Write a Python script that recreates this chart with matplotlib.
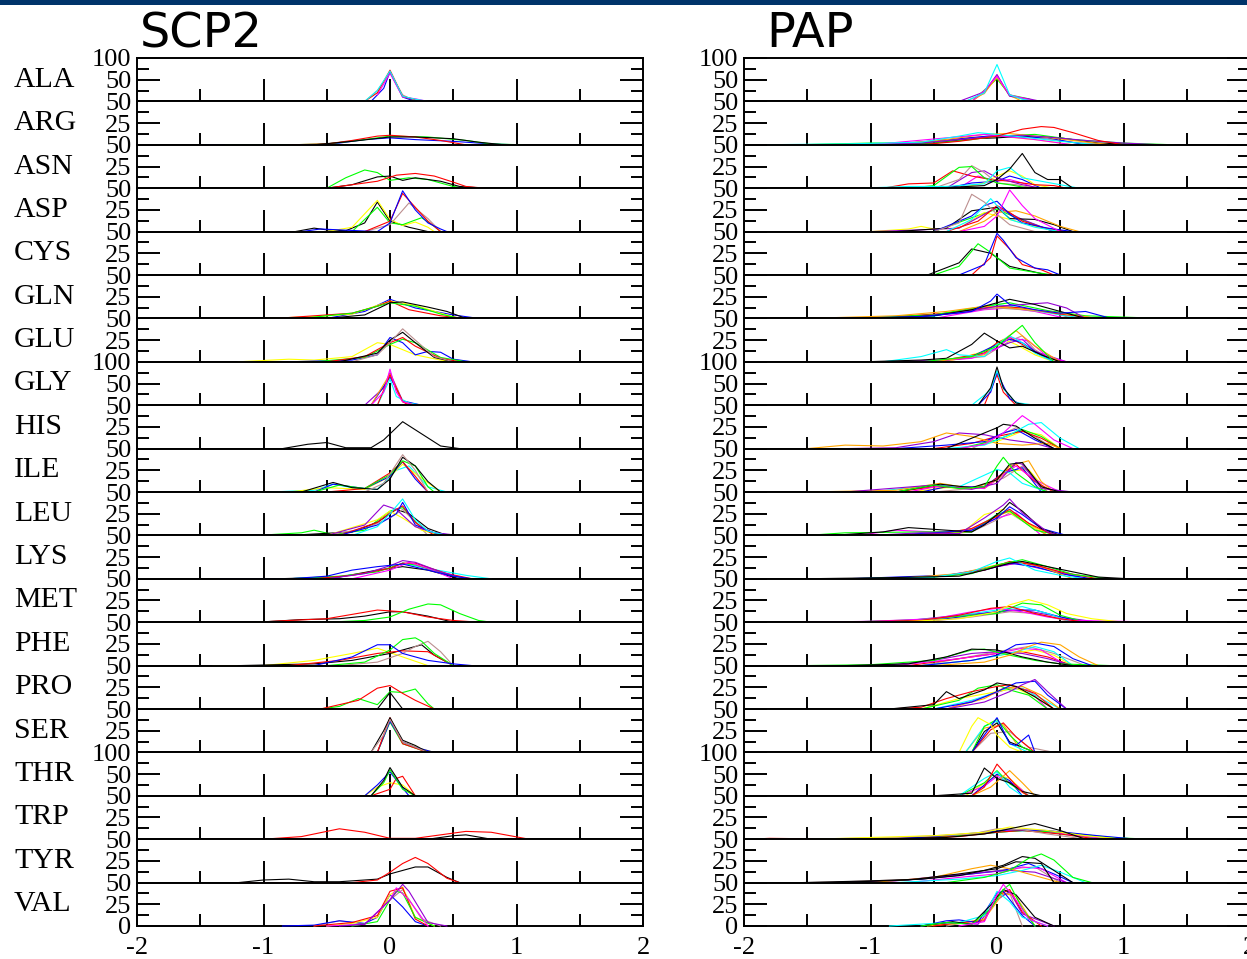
import matplotlib
matplotlib.use("Agg")
import matplotlib.pyplot as plt
from matplotlib.patches import Rectangle

# xmgrace palette, keyed by one letter
grace = {'k': '#000000', 'r': '#ff0000', 'g': '#00ff00', 'b': '#0000ff',
         'y': '#ffff00', 'n': '#bc8f8f', 'v': '#9400d3', 'c': '#00ffff',
         'm': '#ff00ff', 'o': '#ffa500'}

residues = ['ALA', 'ARG', 'ASN', 'ASP', 'CYS', 'GLN', 'GLU', 'GLY', 'HIS', 'ILE',
            'LEU', 'LYS', 'MET', 'PHE', 'PRO', 'SER', 'THR', 'TRP', 'TYR', 'VAL']
ymax = [100, 50, 50, 50, 50, 50, 50, 100, 50, 50,
        50, 50, 50, 50, 50, 50, 100, 50, 50, 50]
xtick_labels = ['-2', '-1', '0', '1', '2']
titles = ['SCP2', 'PAP']

# ---- SCP2 distributions: (colour, x, %) ----
scp2_ala = [('n', [-0.2, -0.1, 0, 0.1, 0.2], [0, 25, 66, 15, 0]),
            ('b', [-0.15, -0.05, 0, 0.1, 0.2], [0, 30, 68, 10, 0]),
            ('m', [-0.1, 0, 0.1, 0.2, 0.3], [15, 65, 10, 6, 0]),
            ('r', [-0.2, -0.1, 0, 0.1, 0.2, 0.25], [0, 20, 72, 12, 4, 0]),
            ('c', [-0.35, -0.2, -0.1, 0, 0.1, 0.2, 0.3], [0, 0, 25, 70, 12, 5, 0])]
scp2_arg = [('b', [-1.45, -0.6, -0.4, -0.2, 0, 0.2, 0.5, 0.8, 1.0], [0, 0, 2, 6, 8, 6, 4, 1, 0]),
            ('g', [-1.3, -0.8, -0.5, -0.2, 0, 0.3, 0.6, 0.8, 1.05], [0, 0, 1, 6, 10, 9, 5, 1, 0]),
            ('r', [-0.8, -0.5, -0.3, -0.1, 0, 0.2, 0.4, 0.6], [0, 1, 5, 10, 11, 9, 5, 0]),
            ('k', [-0.6, -0.3, 0, 0.2, 0.5, 0.7, 0.9], [0, 4, 9, 9, 7, 3, 0])]
scp2_asn = [('g', [-0.97, -0.5, -0.35, -0.2, -0.1, 0, 0.15, 0.3, 0.5, 0.6], [0, 0, 12, 21, 18, 9, 12, 10, 2, 0]),
            ('k', [-0.5, -0.3, -0.1, 0, 0.1, 0.2, 0.4, 0.55, 0.75], [0, 4, 13, 14, 9, 12, 8, 2, 0]),
            ('r', [-0.5, -0.3, -0.1, 0.05, 0.2, 0.35, 0.5, 0.6, 0.75], [0, 4, 8, 15, 17, 14, 7, 2, 0])]
scp2_asp = [('k', [-0.75, -0.6, -0.5, -0.35, -0.2, -0.1, 0, 0.15, 0.3], [0, 4, 2, 1, 10, 34, 12, 5, 0]),
            ('y', [-0.75, -0.5, -0.3, -0.1, 0, 0.1, 0.2, 0.3, 0.35], [0, 0, 5, 36, 14, 7, 11, 5, 0]),
            ('g', [-0.3, -0.1, 0, 0.1, 0.25, 0.35, 0.4], [0, 28, 10, 8, 16, 6, 0]),
            ('n', [-0.2, 0, 0.15, 0.3, 0.4], [0, 8, 33, 15, 0]),
            ('r', [-0.2, 0, 0.1, 0.2, 0.3, 0.4], [0, 12, 44, 28, 12, 0]),
            ('b', [-0.7, -0.55, -0.4, -0.1, 0, 0.1, 0.2, 0.3, 0.4, 0.45], [0, 3, 2, 0, 10, 47, 25, 10, 3, 0])]
scp2_cys = []
scp2_gln = [('b', [-1.2, -0.5, -0.2, 0, 0.2, 0.5, 0.7], [0, 0, 8, 22, 12, 4, 0]),
            ('y', [-1.0, -0.6, -0.3, 0, 0.2, 0.4, 0.55], [0, 2, 5, 20, 15, 6, 0]),
            ('r', [-0.9, -0.3, -0.1, 0, 0.15, 0.4, 0.6], [0, 6, 14, 20, 10, 3, 0]),
            ('g', [-0.7, -0.3, 0, 0.2, 0.4, 0.55], [0, 6, 18, 14, 5, 0]),
            ('k', [-0.5, -0.2, 0, 0.1, 0.3, 0.45, 0.6], [0, 4, 18, 19, 13, 8, 0])]
scp2_glu = [('y', [-1.2, -0.8, -0.6, -0.3, -0.1, 0, 0.2, 0.4, 0.5], [0, 3, 2, 6, 22, 20, 8, 2, 0]),
            ('b', [-0.8, -0.3, -0.1, 0, 0.1, 0.2, 0.3, 0.4, 0.5, 0.65], [0, 2, 8, 28, 22, 8, 12, 11, 3, 0]),
            ('g', [-0.6, -0.2, 0, 0.1, 0.2, 0.4, 0.6], [0, 5, 20, 26, 22, 5, 0]),
            ('r', [-0.5, -0.2, 0, 0.1, 0.2, 0.4, 0.55], [0, 6, 22, 28, 18, 4, 0]),
            ('k', [-0.4, -0.1, 0, 0.1, 0.2, 0.35, 0.5], [0, 10, 25, 34, 22, 5, 0]),
            ('n', [-0.3, -0.1, 0, 0.1, 0.2, 0.35, 0.5], [0, 8, 22, 38, 25, 6, 0])]
scp2_gly = [('v', [-0.2, -0.05, 0, 0.1, 0.2], [0, 40, 75, 10, 0]),
            ('b', [-0.15, 0, 0.1, 0.25], [0, 65, 10, 0]),
            ('c', [-0.1, 0, 0.05, 0.15, 0.25], [0, 60, 20, 5, 0]),
            ('o', [-0.15, 0, 0.1, 0.2], [0, 72, 8, 0]),
            ('r', [-0.1, 0, 0.1, 0.15], [0, 70, 8, 0]),
            ('m', [-0.15, -0.05, 0, 0.05, 0.1, 0.2], [0, 30, 83, 30, 8, 0])]
scp2_his = [('k', [-0.85, -0.65, -0.5, -0.35, -0.15, -0.05, 0.1, 0.25, 0.4, 0.55], [0, 5, 7, 1, 1, 10, 31, 17, 3, 0])]
scp2_ile = [('c', [-0.95, -0.6, -0.45, -0.3, -0.1, 0.05, 0.15, 0.3, 0.45], [0, 2, 9, 5, 3, 25, 30, 6, 0]),
            ('y', [-0.8, -0.5, -0.2, 0, 0.1, 0.25, 0.4], [0, 5, 3, 18, 32, 16, 0]),
            ('b', [-0.6, -0.45, -0.2, 0, 0.1, 0.2, 0.3], [0, 9, 4, 18, 35, 15, 0]),
            ('r', [-0.5, -0.2, 0, 0.1, 0.2, 0.3], [0, 4, 22, 35, 18, 0]),
            ('g', [-0.6, -0.4, -0.2, 0, 0.1, 0.2, 0.3, 0.35], [0, 8, 4, 20, 36, 30, 6, 0]),
            ('k', [-0.7, -0.45, -0.3, -0.1, 0, 0.1, 0.2, 0.3, 0.4], [0, 11, 5, 3, 15, 40, 30, 12, 0]),
            ('n', [-0.2, -0.05, 0.1, 0.2, 0.3], [0, 10, 43, 25, 0])]
scp2_leu = [('g', [-1.05, -0.7, -0.6, -0.45, -0.2, 0, 0.1, 0.25, 0.4], [0, 3, 6, 1, 6, 28, 32, 8, 0]),
            ('k', [-0.8, -0.3, -0.1, 0.05, 0.15, 0.3, 0.45], [0, 4, 15, 30, 25, 8, 0]),
            ('n', [-0.5, -0.2, 0, 0.1, 0.3], [0, 8, 20, 30, 0]),
            ('y', [-0.5, -0.1, 0, 0.1, 0.25, 0.4], [0, 18, 28, 20, 6, 0]),
            ('r', [-0.4, -0.1, 0, 0.1, 0.2, 0.35], [0, 15, 26, 34, 15, 0]),
            ('b', [-0.4, -0.1, 0.05, 0.1, 0.2, 0.35, 0.5], [0, 12, 25, 38, 12, 3, 0]),
            ('v', [-0.5, -0.2, -0.05, 0.05, 0.2, 0.35, 0.55], [0, 12, 35, 30, 10, 3, 0]),
            ('c', [-0.3, -0.1, 0, 0.1, 0.2, 0.3, 0.45], [0, 10, 25, 42, 18, 5, 0])]
scp2_lys = [('k', [-0.9, -0.4, -0.1, 0.1, 0.3, 0.55], [0, 2, 10, 14, 10, 0]),
            ('c', [-0.9, -0.5, -0.2, 0, 0.1, 0.3, 0.6, 0.8], [0, 1, 6, 12, 18, 12, 4, 0]),
            ('g', [-0.8, -0.4, -0.1, 0.1, 0.2, 0.4, 0.6], [0, 3, 8, 18, 16, 7, 0]),
            ('r', [-0.6, -0.3, 0, 0.1, 0.2, 0.45, 0.65], [0, 4, 12, 18, 18, 6, 0]),
            ('m', [-0.3, 0, 0.15, 0.3, 0.5], [0, 10, 19, 12, 0]),
            ('v', [-0.5, -0.2, 0, 0.1, 0.2, 0.4, 0.6], [0, 6, 15, 21, 19, 8, 0]),
            ('b', [-1.35, -0.8, -0.5, -0.3, -0.1, 0.1, 0.3, 0.5, 0.65], [0, 0, 3, 10, 14, 17, 10, 3, 0])]
scp2_met = [('k', [-1.05, -0.7, -0.4, -0.2, 0, 0.1, 0.3, 0.5], [0, 3, 4, 7, 12, 12, 7, 0]),
            ('r', [-1.05, -0.8, -0.5, -0.3, -0.1, 0.1, 0.3, 0.5, 0.7], [0, 2, 4, 9, 14, 12, 6, 2, 0]),
            ('g', [-1.05, -0.5, -0.2, 0, 0.15, 0.3, 0.4, 0.55, 0.7, 0.8], [0, 0, 2, 6, 15, 21, 20, 10, 2, 0])]
scp2_phe = [('y', [-1.4, -1.0, -0.6, -0.3, -0.1, 0.1, 0.3], [0, 0, 6, 14, 20, 10, 0]),
            ('k', [-1.2, -0.6, -0.3, 0, 0.15, 0.25, 0.35, 0.5], [0, 2, 6, 14, 20, 24, 12, 0]),
            ('r', [-0.8, -0.4, -0.1, 0.1, 0.3, 0.5], [0, 6, 14, 17, 16, 0]),
            ('n', [-0.4, -0.1, 0.1, 0.2, 0.3, 0.4, 0.5], [0, 4, 14, 22, 28, 16, 0]),
            ('g', [-0.5, -0.2, 0, 0.1, 0.2, 0.25, 0.35, 0.5], [0, 4, 18, 30, 32, 28, 14, 0]),
            ('b', [-0.6, -0.3, -0.1, 0, 0.1, 0.3, 0.5, 0.65], [0, 10, 24, 24, 14, 6, 2, 0])]
scp2_pro = [('g', [-0.55, -0.4, -0.25, -0.1, 0, 0.1, 0.2, 0.3, 0.35], [0, 3, 12, 5, 20, 19, 23, 6, 0]),
            ('r', [-0.55, -0.4, -0.25, -0.1, 0, 0.1, 0.2, 0.35], [0, 5, 10, 24, 27, 18, 10, 0]),
            ('k', [-0.1, 0, 0.1], [0, 19, 0])]
scp2_ser = [('g', [-0.1, 0, 0.1, 0.3], [0, 35, 10, 0]),
            ('y', [-0.1, 0, 0.1, 0.25, 0.35], [0, 38, 12, 4, 0]),
            ('b', [-0.1, 0, 0.1, 0.2, 0.35], [0, 36, 12, 6, 0]),
            ('r', [-0.1, 0, 0.1, 0.2, 0.3], [0, 40, 10, 5, 0]),
            ('k', [-0.15, -0.05, 0, 0.1, 0.2, 0.3], [0, 25, 40, 14, 8, 0]),
            ('n', [-0.15, -0.05, 0, 0.1, 0.2, 0.3], [0, 20, 38, 12, 6, 0])]
scp2_thr = [('y', [-0.55, -0.2, -0.1, 0, 0.1, 0.2, 0.35], [0, 0, 20, 30, 25, 0, 0]),
            ('r', [-0.15, 0, 0.05, 0.1, 0.2], [0, 15, 40, 45, 0]),
            ('b', [-0.2, -0.1, 0, 0.1, 0.15], [0, 25, 55, 18, 0]),
            ('g', [-0.15, -0.05, 0, 0.1, 0.2], [0, 30, 60, 15, 0]),
            ('k', [-0.15, -0.05, 0, 0.1, 0.2], [0, 35, 65, 20, 0])]
scp2_trp = [('k', [0.3, 0.5, 0.6, 0.8], [0, 4, 5, 0]),
            ('r', [-1.45, -1.0, -0.7, -0.4, -0.2, 0, 0.2, 0.4, 0.6, 0.8, 1.1], [0, 0, 3, 12, 8, 1, 1, 5, 9, 8, 0])]
scp2_tyr = [('k', [-1.2, -1.0, -0.8, -0.6, -0.4, -0.1, 0, 0.2, 0.3, 0.45, 0.55], [0, 3, 4, 1, 1, 4, 10, 18, 18, 6, 0]),
            ('r', [-1.2, -0.3, -0.1, 0, 0.1, 0.2, 0.3, 0.45, 0.55], [0, 0, 3, 12, 22, 29, 22, 5, 0])]
scp2_val = [('n', [-0.6, -0.4, -0.2, 0, 0.1, 0.25, 0.4], [0, 6, 2, 30, 42, 8, 0]),
            ('b', [-0.85, -0.6, -0.4, -0.2, -0.1, 0, 0.1, 0.2, 0.3], [0, 1, 6, 3, 10, 36, 22, 5, 0]),
            ('y', [-0.5, -0.3, -0.1, 0, 0.1, 0.2, 0.35], [0, 3, 10, 36, 45, 10, 0]),
            ('r', [-0.6, -0.3, -0.1, 0, 0.1, 0.2, 0.3], [0, 4, 12, 40, 44, 8, 0]),
            ('g', [-0.3, -0.1, 0, 0.05, 0.1, 0.2, 0.35], [0, 5, 30, 40, 38, 10, 0]),
            ('m', [-0.5, -0.2, 0, 0.05, 0.15, 0.3], [0, 2, 30, 44, 30, 0]),
            ('v', [-0.4, -0.2, 0, 0.1, 0.15, 0.3, 0.45], [0, 2, 30, 48, 40, 4, 0])]

# ---- PAP distributions ----
pap_ala = [('n', [-0.25, -0.1, 0, 0.1, 0.3], [0, 18, 60, 12, 0]),
           ('g', [-0.2, 0, 0.1, 0.25, 0.3], [0, 52, 15, 6, 0]),
           ('o', [-0.2, -0.1, 0, 0.1, 0.2], [0, 20, 55, 14, 0]),
           ('v', [-0.3, -0.1, 0, 0.1, 0.25, 0.35, 0.4, 0.46], [0, 22, 62, 12, 6, 0, 2, 0]),
           ('m', [-0.33, -0.2, -0.1, 0, 0.1, 0.2, 0.3], [0, 0, 25, 58, 15, 8, 0]),
           ('c', [-0.25, -0.1, 0, 0.1, 0.2, 0.3], [0, 20, 85, 15, 5, 0])]
pap_arg = [('y', [-1.2, -0.6, -0.2, 0, 0.3, 0.6], [0, 3, 8, 10, 6, 0]),
           ('n', [-0.8, -0.4, -0.1, 0.1, 0.3, 0.6, 0.9], [0, 5, 9, 10, 8, 3, 0]),
           ('k', [-1.0, -0.5, -0.2, 0, 0.2, 0.5, 0.8, 1.2], [0, 2, 7, 8, 10, 8, 2, 0]),
           ('b', [-1.3, -0.7, -0.3, 0, 0.2, 0.4, 0.7], [0, 2, 7, 11, 9, 8, 0]),
           ('g', [-1.6, -1.0, -0.5, -0.2, 0, 0.3, 0.6, 1.0, 1.4], [0, 2, 2, 6, 10, 12, 6, 2, 0]),
           ('o', [-1.5, -0.8, -0.4, -0.1, 0.1, 0.3, 0.6, 0.9], [0, 1, 6, 12, 13, 10, 5, 0]),
           ('v', [-1.2, -0.6, -0.3, 0, 0.2, 0.4, 0.7, 1.0, 1.3], [0, 2, 6, 10, 11, 9, 5, 2, 0]),
           ('m', [-1.0, -0.4, -0.1, 0.1, 0.3, 0.6], [0, 8, 12, 9, 6, 0]),
           ('c', [-1.9, -1.2, -0.6, -0.3, -0.15, 0, 0.2, 0.5, 0.8], [0, 1, 3, 10, 14, 12, 9, 4, 0]),
           ('r', [-0.6, -0.3, 0, 0.2, 0.35, 0.45, 0.6, 0.8, 1.0], [0, 4, 10, 18, 21, 20, 14, 5, 0])]
pap_asn = [('m', [-0.3, -0.15, 0, 0.1, 0.2, 0.3], [0, 14, 8, 10, 6, 0]),
           ('b', [-0.4, -0.2, 0, 0.1, 0.2, 0.35], [0, 6, 8, 14, 10, 0]),
           ('y', [-0.3, -0.1, 0, 0.1, 0.2, 0.3, 0.45], [0, 6, 14, 20, 14, 4, 0]),
           ('r', [-0.9, -0.7, -0.5, -0.35, -0.2, -0.05, 0.1, 0.3, 0.45, 0.55], [0, 5, 6, 20, 14, 10, 8, 4, 3, 0]),
           ('v', [-0.4, -0.2, -0.1, 0, 0.1, 0.2, 0.35], [0, 18, 20, 12, 8, 4, 0]),
           ('n', [-0.5, -0.3, -0.2, -0.1, 0, 0.15, 0.3], [0, 10, 26, 18, 6, 4, 0]),
           ('g', [-0.7, -0.5, -0.3, -0.2, -0.1, 0, 0.1, 0.25], [0, 3, 24, 25, 12, 6, 4, 0]),
           ('c', [-1.1, -0.7, -0.4, -0.1, 0, 0.1, 0.2, 0.35, 0.5, 0.65], [0, 2, 2, 5, 20, 24, 12, 8, 4, 0]),
           ('k', [-0.5, -0.1, 0, 0.1, 0.2, 0.3, 0.4, 0.5, 0.6], [0, 3, 10, 22, 40, 18, 10, 10, 0])]
pap_asp = [('g', [-0.5, -0.2, 0, 0.15, 0.3, 0.45], [0, 16, 26, 16, 8, 0]),
           ('y', [-1.0, -0.7, -0.6, -0.5, -0.3, -0.1, 0.1, 0.3, 0.5], [0, 3, 6, 3, 4, 22, 14, 6, 0]),
           ('v', [-1.0, -0.6, -0.3, -0.1, 0, 0.2, 0.45], [0, 2, 4, 20, 28, 14, 0]),
           ('k', [-0.8, -0.4, -0.2, 0, 0.1, 0.3, 0.45, 0.6], [0, 4, 24, 28, 15, 14, 8, 0]),
           ('o', [-0.3, -0.1, 0, 0.15, 0.3, 0.5, 0.65], [0, 12, 22, 24, 18, 6, 0]),
           ('r', [-0.4, -0.15, 0, 0.1, 0.2, 0.35, 0.55], [0, 12, 30, 22, 12, 5, 0]),
           ('b', [-0.5, -0.2, -0.1, 0, 0.1, 0.2, 0.4, 0.6], [0, 18, 30, 35, 20, 10, 4, 0]),
           ('c', [-0.4, -0.2, -0.05, 0, 0.1, 0.3, 0.5], [0, 14, 38, 30, 14, 5, 0]),
           ('n', [-0.5, -0.3, -0.2, -0.1, 0, 0.1, 0.3], [0, 10, 43, 34, 20, 8, 0]),
           ('m', [-0.3, -0.1, 0, 0.1, 0.2, 0.3, 0.5], [0, 6, 18, 48, 30, 15, 0])]
pap_cys = [('k', [-0.55, -0.3, -0.2, -0.05, 0.1, 0.25, 0.4], [0, 14, 30, 25, 10, 5, 0]),
           ('g', [-1.0, -0.5, -0.3, -0.15, -0.05, 0.1, 0.3, 0.45], [0, 0, 10, 36, 26, 8, 3, 0]),
           ('r', [-0.2, -0.05, 0, 0.1, 0.2, 0.35, 0.45], [0, 20, 45, 30, 12, 6, 0]),
           ('b', [-0.3, -0.1, 0, 0.05, 0.15, 0.3, 0.4, 0.5], [0, 12, 48, 40, 20, 8, 6, 0])]
pap_gln = [('m', [-0.5, -0.1, 0.1, 0.3, 0.55], [0, 10, 12, 8, 0]),
           ('n', [-0.7, -0.3, 0, 0.2, 0.45, 0.6], [0, 8, 12, 10, 6, 0]),
           ('c', [-0.6, -0.2, 0, 0.2, 0.5, 0.7], [0, 10, 16, 12, 4, 0]),
           ('r', [-1.0, -0.4, 0, 0.2, 0.5, 0.8], [0, 6, 14, 12, 5, 0]),
           ('g', [-1.2, -0.5, -0.1, 0.1, 0.4, 0.7, 1.3], [0, 4, 14, 18, 9, 3, 0]),
           ('o', [-1.5, -0.8, -0.4, -0.1, 0.1, 0.4, 0.6, 0.8], [0, 3, 8, 14, 12, 8, 4, 0]),
           ('v', [-0.8, -0.3, 0, 0.2, 0.4, 0.55, 0.7], [0, 6, 14, 16, 18, 12, 0]),
           ('k', [-1.0, -0.5, -0.2, 0, 0.1, 0.3, 0.5, 0.7], [0, 3, 10, 18, 22, 16, 8, 0]),
           ('b', [-1.3, -0.6, -0.2, -0.05, 0, 0.1, 0.3, 0.5, 0.7, 0.9], [0, 2, 8, 20, 28, 16, 10, 6, 8, 0])]
pap_glu = [('n', [-0.5, -0.1, 0.1, 0.2, 0.3, 0.45], [0, 6, 24, 30, 14, 0]),
           ('y', [-0.4, -0.1, 0.05, 0.15, 0.3, 0.45], [0, 12, 26, 20, 8, 0]),
           ('v', [-0.8, -0.3, -0.1, 0.1, 0.2, 0.3, 0.55], [0, 3, 10, 22, 26, 12, 0]),
           ('r', [-0.5, -0.1, 0, 0.1, 0.2, 0.35, 0.5], [0, 10, 22, 28, 20, 8, 0]),
           ('b', [-0.5, -0.2, 0, 0.1, 0.2, 0.3, 0.45], [0, 6, 20, 26, 22, 12, 0]),
           ('m', [-0.6, -0.2, 0, 0.1, 0.25, 0.4, 0.55], [0, 4, 15, 28, 24, 6, 0]),
           ('o', [-0.5, -0.1, 0.05, 0.15, 0.3, 0.5], [0, 8, 25, 36, 18, 0]),
           ('c', [-0.9, -0.6, -0.4, -0.3, -0.1, 0, 0.1, 0.2, 0.3, 0.45], [0, 6, 14, 8, 6, 20, 30, 22, 10, 0]),
           ('k', [-1.05, -0.6, -0.4, -0.2, -0.1, 0, 0.1, 0.2, 0.35, 0.5], [0, 2, 4, 20, 33, 24, 16, 18, 8, 0]),
           ('g', [-0.6, -0.2, 0, 0.1, 0.2, 0.3, 0.45], [0, 6, 18, 30, 42, 22, 0])]
pap_gly = [('r', [-0.1, 0, 0.05, 0.15], [0, 70, 30, 0]),
           ('b', [-0.15, -0.05, 0, 0.1, 0.2], [0, 30, 75, 15, 0]),
           ('c', [-0.2, -0.05, 0, 0.05, 0.15, 0.3], [0, 35, 80, 38, 6, 0]),
           ('k', [-0.15, -0.05, 0, 0.05, 0.15, 0.25], [0, 40, 88, 40, 5, 0])]
pap_his = [('y', [-0.3, 0, 0.2, 0.35, 0.5], [0, 8, 20, 16, 0]),
           ('n', [-0.2, 0, 0.15, 0.3, 0.45], [0, 14, 24, 14, 0]),
           ('g', [-0.3, 0, 0.2, 0.35, 0.5], [0, 10, 22, 14, 0]),
           ('r', [-0.5, -0.2, 0, 0.2, 0.35, 0.5], [0, 6, 14, 20, 12, 0]),
           ('b', [-0.8, -0.4, -0.1, 0.05, 0.15, 0.3, 0.45], [0, 4, 8, 18, 22, 10, 0]),
           ('v', [-1.2, -0.8, -0.5, -0.3, -0.1, 0.1, 0.3, 0.45], [0, 1, 8, 18, 16, 10, 6, 0]),
           ('o', [-1.5, -1.2, -0.9, -0.6, -0.4, -0.2, 0, 0.2, 0.4, 0.5], [0, 4, 3, 8, 18, 14, 6, 4, 6, 0]),
           ('k', [-0.4, -0.2, 0, 0.05, 0.15, 0.3, 0.45], [0, 12, 24, 28, 26, 12, 0]),
           ('c', [-0.4, -0.1, 0.1, 0.25, 0.35, 0.5, 0.65], [0, 4, 16, 28, 30, 12, 0]),
           ('m', [-0.3, -0.1, 0.05, 0.2, 0.3, 0.45, 0.6], [0, 5, 18, 38, 28, 10, 0])]
pap_ile = [('y', [-0.7, -0.4, -0.1, 0.1, 0.25, 0.4], [0, 5, 4, 24, 26, 0]),
           ('n', [-0.5, -0.2, 0.05, 0.2, 0.4], [0, 4, 16, 30, 0]),
           ('b', [-0.6, -0.4, -0.1, 0.05, 0.2, 0.35], [0, 6, 6, 22, 28, 0]),
           ('r', [-0.8, -0.5, -0.1, 0.05, 0.15, 0.3, 0.45], [0, 6, 5, 22, 32, 12, 0]),
           ('m', [-0.7, -0.45, -0.1, 0.05, 0.15, 0.3, 0.5], [0, 7, 4, 20, 30, 14, 0]),
           ('c', [-1.0, -0.5, -0.3, 0, 0.1, 0.2, 0.4], [0, 8, 6, 26, 22, 10, 0]),
           ('o', [-1.5, -0.8, -0.45, -0.2, 0, 0.1, 0.25, 0.35, 0.45], [0, 2, 10, 4, 14, 30, 36, 12, 0]),
           ('v', [-1.2, -0.5, -0.2, 0, 0.15, 0.2, 0.35, 0.6], [0, 8, 3, 10, 34, 32, 4, 0]),
           ('k', [-0.8, -0.45, -0.2, 0, 0.1, 0.2, 0.35, 0.5], [0, 9, 5, 14, 32, 34, 6, 0]),
           ('g', [-0.8, -0.5, -0.3, -0.1, 0, 0.05, 0.15, 0.3, 0.4], [0, 8, 4, 6, 30, 40, 22, 6, 0])]
pap_leu = [('n', [-0.5, -0.2, 0, 0.1, 0.25, 0.4], [0, 4, 18, 26, 12, 0]),
           ('c', [-0.6, -0.2, 0, 0.1, 0.3, 0.5], [0, 6, 24, 30, 8, 0]),
           ('m', [-1.1, -0.8, -0.5, -0.2, 0, 0.15, 0.35], [0, 6, 4, 6, 20, 26, 0]),
           ('o', [-0.6, -0.25, 0, 0.1, 0.25, 0.4], [0, 4, 22, 28, 14, 0]),
           ('y', [-0.7, -0.25, -0.1, 0.05, 0.15, 0.3, 0.5], [0, 6, 24, 30, 22, 8, 0]),
           ('g', [-1.5, -1.2, -0.6, -0.2, 0, 0.1, 0.3, 0.5], [0, 3, 4, 4, 24, 28, 6, 0]),
           ('r', [-0.8, -0.4, -0.2, 0, 0.1, 0.25, 0.45], [0, 3, 8, 22, 30, 14, 0]),
           ('b', [-0.9, -0.5, -0.2, 0, 0.1, 0.2, 0.35, 0.55], [0, 3, 6, 20, 33, 24, 8, 0]),
           ('k', [-1.3, -0.9, -0.7, -0.4, -0.2, -0.1, 0.05, 0.1, 0.2, 0.35, 0.5], [0, 4, 9, 6, 4, 12, 30, 38, 28, 8, 0]),
           ('v', [-1.0, -0.6, -0.3, -0.1, 0.05, 0.1, 0.2, 0.4, 0.5], [0, 3, 2, 20, 35, 42, 26, 4, 0])]
pap_lys = [('m', [-0.7, -0.3, 0, 0.2, 0.45, 0.7], [0, 5, 14, 19, 10, 0]),
           ('v', [-0.9, -0.4, 0, 0.15, 0.4, 0.7], [0, 4, 14, 18, 10, 0]),
           ('b', [-1.2, -0.4, -0.1, 0.1, 0.3, 0.5, 0.75], [0, 4, 10, 18, 14, 6, 0]),
           ('o', [-0.8, -0.3, 0, 0.15, 0.35, 0.6], [0, 6, 16, 20, 14, 0]),
           ('r', [-1.0, -0.4, -0.1, 0.1, 0.3, 0.5, 0.8], [0, 3, 10, 20, 16, 8, 0]),
           ('g', [-1.2, -0.5, -0.2, 0, 0.2, 0.4, 0.6, 0.9], [0, 2, 6, 16, 22, 14, 5, 0]),
           ('c', [-1.0, -0.5, -0.2, 0, 0.1, 0.3, 0.5, 0.7], [0, 2, 8, 20, 24, 10, 4, 0]),
           ('k', [-1.55, -1.0, -0.6, -0.3, -0.1, 0.1, 0.2, 0.4, 0.6, 0.8, 1.05], [0, 1, 2, 3, 10, 18, 20, 14, 8, 2, 0])]
pap_met = [('v', [-1.3, -0.7, -0.3, 0, 0.2, 0.5, 0.8], [0, 2, 8, 12, 14, 6, 0]),
           ('n', [-0.6, -0.2, 0.1, 0.3, 0.6], [0, 6, 12, 10, 0]),
           ('b', [-0.9, -0.4, -0.1, 0.1, 0.3, 0.5, 0.7], [0, 4, 10, 14, 14, 6, 0]),
           ('c', [-1.0, -0.5, -0.2, 0, 0.2, 0.4, 0.6], [0, 4, 10, 14, 18, 10, 0]),
           ('g', [-1.2, -0.6, -0.2, 0, 0.2, 0.35, 0.5, 0.7], [0, 3, 8, 10, 22, 20, 8, 0]),
           ('m', [-1.55, -1.0, -0.5, -0.2, 0, 0.2, 0.4, 0.6, 1.35], [0, 1, 4, 12, 16, 12, 6, 2, 0]),
           ('r', [-1.2, -0.6, -0.3, -0.05, 0.1, 0.3, 0.5, 0.7], [0, 2, 8, 16, 18, 10, 4, 0]),
           ('y', [-0.8, -0.3, 0, 0.1, 0.25, 0.4, 0.55, 0.75, 1.0], [0, 4, 12, 20, 26, 20, 10, 4, 0])]
pap_phe = [('n', [-0.6, -0.3, 0, 0.25, 0.45, 0.7], [0, 8, 16, 22, 14, 0]),
           ('r', [-0.7, -0.3, 0, 0.2, 0.4, 0.6], [0, 8, 14, 16, 10, 0]),
           ('y', [-0.6, -0.2, 0.1, 0.3, 0.45, 0.6], [0, 6, 14, 18, 12, 0]),
           ('m', [-0.8, -0.3, 0, 0.2, 0.35, 0.55], [0, 8, 14, 20, 18, 0]),
           ('v', [-0.9, -0.5, -0.2, 0, 0.2, 0.4, 0.6], [0, 6, 14, 16, 14, 8, 0]),
           ('c', [-0.6, -0.2, 0.1, 0.3, 0.45, 0.6], [0, 6, 14, 22, 16, 0]),
           ('g', [-1.55, -1.0, -0.5, -0.2, -0.1, 0.1, 0.3, 0.5, 0.9], [0, 1, 6, 18, 19, 12, 6, 2, 0]),
           ('k', [-1.2, -0.7, -0.4, -0.2, 0, 0.2, 0.4, 0.6], [0, 2, 10, 19, 18, 10, 4, 0]),
           ('o', [-0.5, -0.1, 0.1, 0.25, 0.35, 0.5, 0.65, 0.8], [0, 4, 12, 22, 27, 24, 10, 0]),
           ('b', [-0.6, -0.2, 0, 0.15, 0.3, 0.45, 0.6, 0.75], [0, 6, 12, 24, 26, 22, 8, 0])]
pap_pro = [('m', [-0.4, -0.1, 0.1, 0.25, 0.4], [0, 14, 24, 22, 0]),
           ('c', [-0.5, -0.2, 0.05, 0.2, 0.35, 0.5], [0, 10, 22, 24, 12, 0]),
           ('y', [-0.6, -0.3, 0, 0.15, 0.3, 0.45], [0, 12, 20, 24, 14, 0]),
           ('o', [-0.4, -0.1, 0.05, 0.2, 0.35, 0.5], [0, 12, 24, 26, 16, 0]),
           ('g', [-0.6, -0.3, -0.15, 0, 0.1, 0.25, 0.4], [0, 10, 24, 28, 22, 16, 0]),
           ('r', [-0.85, -0.6, -0.4, -0.2, 0, 0.1, 0.3, 0.45], [0, 2, 12, 20, 26, 28, 18, 0]),
           ('b', [-0.5, -0.2, 0, 0.15, 0.3, 0.4, 0.55], [0, 8, 20, 30, 32, 16, 0]),
           ('k', [-0.85, -0.5, -0.4, -0.3, -0.1, 0, 0.15, 0.3, 0.45], [0, 5, 20, 12, 22, 30, 26, 14, 0]),
           ('v', [-0.4, -0.1, 0.1, 0.2, 0.3, 0.4, 0.55], [0, 8, 20, 28, 34, 20, 0])]
pap_ser = [('o', [-0.25, -0.1, 0.05, 0.2], [0, 28, 32, 0]),
           ('n', [-0.2, -0.05, 0.1, 0.25, 0.45], [0, 22, 24, 6, 0]),
           ('c', [-0.25, -0.1, 0, 0.1, 0.25], [0, 30, 36, 10, 0]),
           ('k', [-0.2, -0.1, 0, 0.1, 0.2, 0.3], [0, 24, 34, 12, 6, 0]),
           ('r', [-0.2, -0.05, 0.05, 0.15, 0.3], [0, 26, 34, 18, 0]),
           ('g', [-0.45, -0.2, -0.1, 0, 0.1, 0.2, 0.3], [0, 0, 30, 38, 20, 6, 0]),
           ('b', [-0.2, -0.1, 0, 0.1, 0.15, 0.25, 0.3], [0, 20, 40, 10, 8, 20, 0]),
           ('y', [-0.3, -0.2, -0.15, -0.05, 0, 0.1, 0.2], [0, 30, 40, 32, 20, 6, 0])]
pap_thr = [('y', [-0.25, 0, 0.1, 0.25], [0, 48, 40, 0]),
           ('m', [-0.3, -0.1, 0, 0.15, 0.25], [0, 22, 45, 25, 0]),
           ('b', [-0.2, 0, 0.1, 0.2], [0, 50, 35, 0]),
           ('g', [-0.3, -0.1, 0, 0.1, 0.25], [0, 30, 58, 28, 0]),
           ('c', [-0.3, -0.1, 0, 0.1, 0.2], [0, 40, 55, 20, 0]),
           ('o', [-0.2, -0.05, 0.1, 0.2, 0.3], [0, 20, 58, 30, 0]),
           ('k', [-0.5, -0.2, -0.1, 0, 0.1, 0.2, 0.35], [0, 6, 64, 40, 30, 10, 0]),
           ('r', [-0.55, -0.2, -0.1, 0, 0.1, 0.2, 0.25], [0, 0, 20, 73, 40, 8, 0])]
pap_trp = [('c', [-0.7, -0.2, 0.1, 0.3, 0.6, 0.9], [0, 5, 9, 10, 4, 0]),
           ('m', [-0.6, -0.2, 0.1, 0.3, 0.6, 0.9], [0, 6, 10, 10, 5, 0]),
           ('g', [-0.8, -0.3, 0, 0.2, 0.5, 0.9, 1.2], [0, 4, 8, 10, 8, 2, 0]),
           ('r', [-1.95, -1.8, -1.2, -0.3, 0, 0.2, 0.5, 0.8], [0, 1, 0, 3, 8, 10, 6, 0]),
           ('b', [-1.2, -0.6, -0.1, 0.1, 0.4, 0.8, 1.1], [0, 2, 8, 11, 10, 4, 0]),
           ('n', [-1.5, -0.8, -0.2, 0, 0.2, 0.4, 0.7], [0, 2, 6, 12, 11, 6, 0]),
           ('y', [-1.45, -1.0, -0.5, -0.1, 0.1, 0.4, 0.7, 1.0], [0, 2, 4, 8, 14, 10, 4, 0]),
           ('k', [-1.0, -0.4, -0.1, 0.1, 0.3, 0.5, 0.7], [0, 2, 6, 12, 18, 10, 0])]
pap_tyr = [('n', [-1.5, -1.2, -0.6, -0.2, 0.1, 0.3, 0.5], [0, 1, 4, 10, 16, 18, 0]),
           ('b', [-1.1, -0.6, -0.2, 0.05, 0.25, 0.45, 0.6], [0, 4, 10, 14, 22, 10, 0]),
           ('m', [-0.7, -0.3, 0, 0.2, 0.35, 0.55], [0, 6, 10, 18, 16, 0]),
           ('v', [-1.3, -0.8, -0.4, -0.1, 0.1, 0.3, 0.55], [0, 2, 8, 12, 14, 12, 0]),
           ('c', [-0.8, -0.3, 0, 0.2, 0.35, 0.5, 0.7], [0, 4, 8, 14, 20, 12, 0]),
           ('o', [-1.0, -0.5, -0.2, -0.05, 0.1, 0.3, 0.5], [0, 6, 16, 20, 16, 8, 0]),
           ('k', [-1.3, -0.7, -0.3, 0, 0.15, 0.35, 0.45], [0, 3, 10, 16, 24, 22, 0]),
           ('k', [-1.55, -1.0, -0.6, -0.3, -0.1, 0.05, 0.2, 0.3, 0.45, 0.6], [0, 2, 4, 8, 14, 20, 30, 28, 14, 0]),
           ('g', [-0.4, -0.1, 0.1, 0.25, 0.35, 0.45, 0.6, 0.75], [0, 6, 14, 28, 33, 26, 6, 0])]
pap_val = [('n', [-0.4, -0.1, 0, 0.1, 0.2], [0, 8, 34, 38, 0]),
           ('v', [-0.6, -0.35, -0.15, 0, 0.1, 0.2, 0.45], [0, 4, 2, 30, 40, 14, 0]),
           ('o', [-0.55, -0.3, -0.1, 0.05, 0.15, 0.3], [0, 3, 8, 38, 34, 0]),
           ('r', [-0.5, -0.3, -0.1, 0, 0.1, 0.2, 0.35], [0, 4, 6, 35, 42, 16, 0]),
           ('b', [-0.6, -0.4, -0.3, -0.15, 0, 0.05, 0.2, 0.3], [0, 6, 7, 4, 38, 40, 12, 0]),
           ('c', [-0.85, -0.5, -0.3, -0.1, 0, 0.1, 0.2, 0.4], [0, 3, 4, 12, 40, 28, 10, 0]),
           ('k', [-0.6, -0.35, -0.2, -0.05, 0.05, 0.15, 0.3, 0.45], [0, 5, 2, 24, 42, 36, 10, 0]),
           ('g', [-0.6, -0.4, -0.2, -0.05, 0.05, 0.1, 0.2, 0.3], [0, 4, 2, 20, 42, 48, 20, 0]),
           ('m', [-0.3, -0.1, 0, 0.05, 0.15, 0.25, 0.4], [0, 5, 36, 48, 30, 8, 0])]

scp2 = [scp2_ala, scp2_arg, scp2_asn, scp2_asp, scp2_cys, scp2_gln, scp2_glu,
        scp2_gly, scp2_his, scp2_ile, scp2_leu, scp2_lys, scp2_met, scp2_phe,
        scp2_pro, scp2_ser, scp2_thr, scp2_trp, scp2_tyr, scp2_val]
pap = [pap_ala, pap_arg, pap_asn, pap_asp, pap_cys, pap_gln, pap_glu,
       pap_gly, pap_his, pap_ile, pap_leu, pap_lys, pap_met, pap_phe,
       pap_pro, pap_ser, pap_thr, pap_trp, pap_tyr, pap_val]

W, H = 1247, 959
fig = plt.figure(figsize=(W / 100, H / 100), dpi=100)
fig.patch.set_facecolor('white')
serif = 'Liberation Serif'

# thin banner across the top
fig.add_artist(Rectangle((0, 1 - 5 / H), 1, 5 / H, transform=fig.transFigure,
                         facecolor='#00346a', edgecolor='none'))

top, ph, pw = 58.0, 43.4, 506.0
lefts = [137.0, 744.0]
lw = 1.4

for col, (data, title) in enumerate(zip([scp2, pap], titles)):
    x0 = lefts[col]
    fig.text(x0 / W + (3 if col == 0 else 22) / W, 1 - 47 / H, title,
             fontsize=34.5, family='DejaVu Sans', va='baseline', ha='left')
    for i, res in enumerate(residues):
        bottom = top + (i + 1) * ph
        ax = fig.add_axes([x0 / W, 1 - bottom / H, pw / W, ph / H])
        ym = ymax[i]
        for c, xs, ys in data[i]:
            ax.plot(xs, ys, color=grace[c], lw=0.8, zorder=3, clip_on=False)
        ax.set_xlim(-2, 2)
        ax.set_ylim(0, ym)
        for s in ax.spines.values():
            s.set_linewidth(lw)
        ax.set_xticks([-1, 0, 1])
        ax.set_xticks([-1.5, -0.5, 0.5, 1.5], minor=True)
        ax.set_yticks([0, ym / 2, ym])
        ax.set_yticks([ym / 4, 3 * ym / 4], minor=True)
        ax.tick_params(which='both', direction='in', width=lw, colors='black',
                       left=True, right=True, top=False, bottom=True)
        ax.tick_params(which='major', length=16)
        ax.tick_params(which='minor', length=8.6)
        ax.tick_params(axis='y', which='major', length=16.5)
        ylabels = ['0' if i == len(residues) - 1 else '', str(ym // 2), str(ym)]
        ax.set_yticklabels(ylabels, fontsize=19, family=serif)
        ax.tick_params(axis='y', pad=4)
        if i == len(residues) - 1:
            ax.set_xticks([-2, -1, 0, 1, 2])
            ax.set_xticklabels(xtick_labels, fontsize=19, family=serif)
            ax.tick_params(axis='x', which='major', pad=8)
        else:
            ax.set_xticklabels([])
        if col == 0:
            fig.text(14 / W, 1 - (bottom - ph / 2) / H, res, fontsize=21.5,
                     family=serif, ha='left', va='center')

fig.savefig('out.png', dpi=100)
